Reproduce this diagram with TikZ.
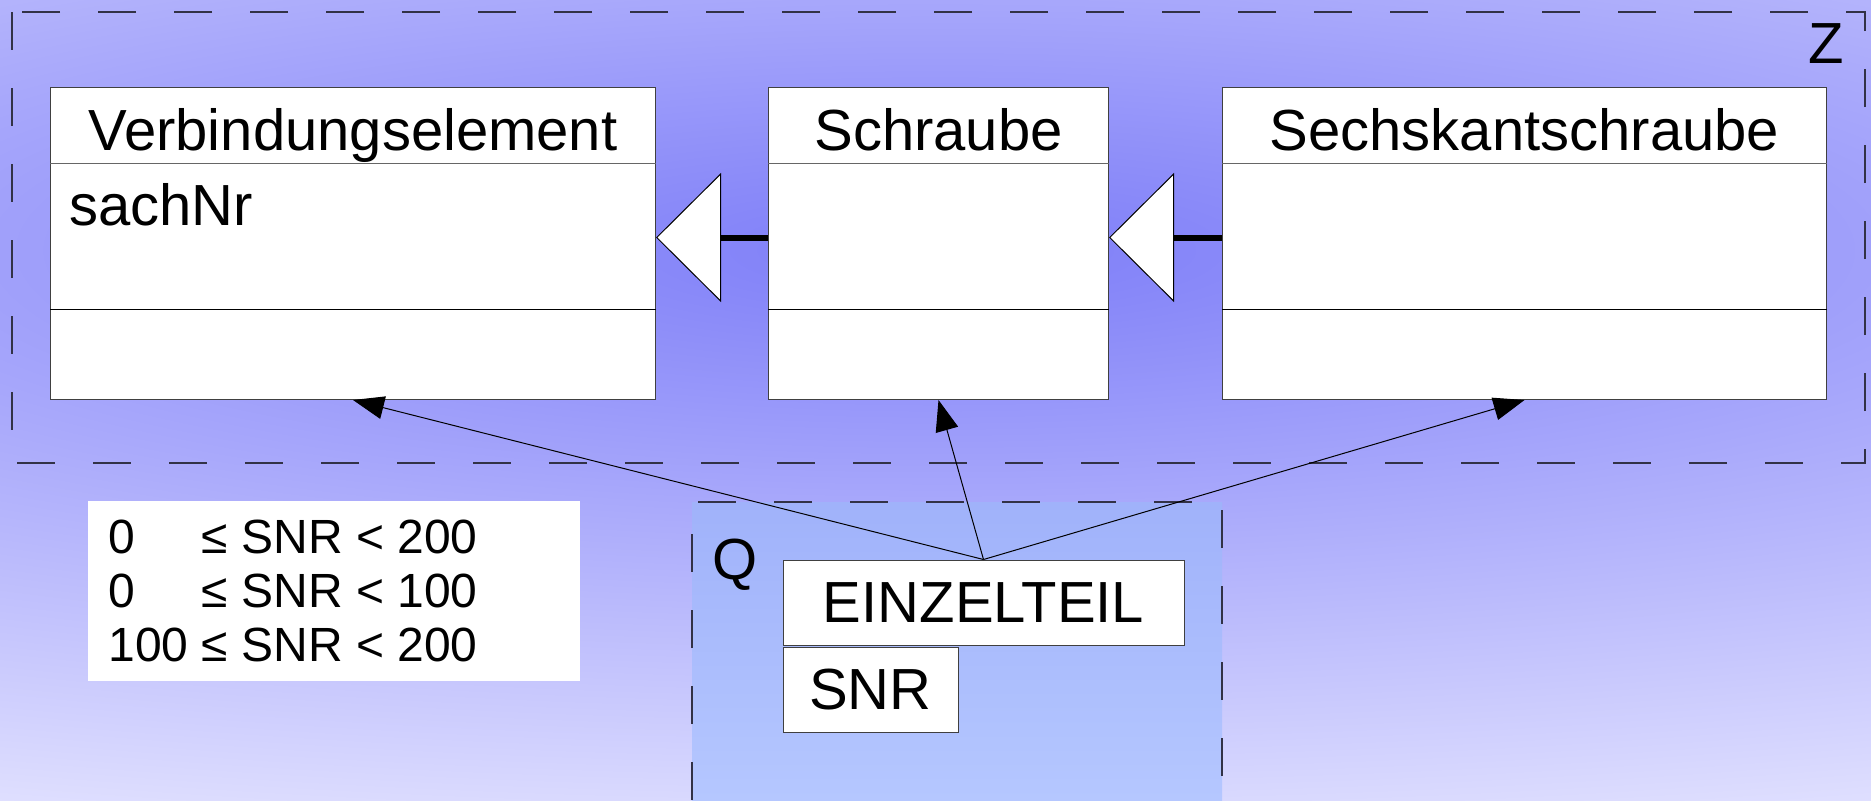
\documentclass[tikz,border=0pt]{standalone}
\usepackage{fontspec}
\setmainfont{Liberation Sans}
\usetikzlibrary{arrows.meta}

\definecolor{bgmid}{RGB}{126,126,248}
\definecolor{bgedge}{RGB}{228,228,255}
\definecolor{qtop}{RGB}{160,178,250}
\definecolor{qbot}{RGB}{181,199,255}
\definecolor{rim}{RGB}{50,50,70}
\pgfdeclareradialshading{bgglow}{\pgfpoint{0bp}{0bp}}{color(0bp)=(bgmid); color(25bp)=(bgedge); color(50bp)=(bgedge)}

\newcommand{\bigfont}{\fontsize{29}{34}\selectfont}
\newcommand{\condfont}{\fontsize{24}{27}\selectfont}

\tikzset{
  classbox/.style={draw=black!75, fill=white, line width=0.5pt, minimum height=156pt, inner sep=0pt, anchor=north west},
  classname/.style={anchor=base, inner sep=0pt, font=\bigfont},
  attr/.style={anchor=base west, inner sep=0pt, font=\bigfont},
  entity/.style={draw=black!75, fill=white, line width=0.5pt, inner sep=0pt, minimum height=42.5pt, font=\bigfont},
  gen/.style={line width=3pt, -{Triangle[length=32.5pt,width=64.5pt,fill=white,line width'=0.5pt]}},
  assoc/.style={line width=0.5pt, -{Triangle[length=15.5pt,width=11.5pt]}},
  zone/.style={draw=rim, line width=0.7pt, dash pattern=on 19pt off 19pt}
}

\begin{document}
\begin{tikzpicture}[x=0.5pt,y=-0.5pt]
\useasboundingbox (0,0) rectangle (1871,800);

% background
\begin{scope}
\clip (0,0) rectangle (1871,800);
\shade[shading=bgglow] (935,250) ellipse (1400pt and 310pt);
\end{scope}

% zone Z
\draw[zone] (12,12) rectangle (1865,463);
\node[inner sep=0pt, font=\bigfont] (zlabel) at (1826,44) {Z};

% zone Q
\shade[top color=qtop, bottom color=qbot] (692,502) rectangle (1222,800);
\draw[zone] (692,800) |- (1222,502) -- (1222,800);
\node[anchor=base west, inner sep=0pt, font=\bigfont] (qlabel) at (712,579) {Q};

% classes
\node[classbox, minimum width=302.5pt] (verb) at (50,87) {};
\node[classbox, minimum width=170pt] (schraube) at (768,87) {};
\node[classbox, minimum width=302pt] (sechskant) at (1222,87) {};
\foreach \c in {verb,schraube,sechskant}{
  \draw[black!60, line width=0.5pt] ([yshift=-38pt]\c.north west) -- ([yshift=-38pt]\c.north east);
  \draw[line width=0.5pt] ([yshift=-111pt]\c.north west) -- ([yshift=-111pt]\c.north east);
}
\node[classname] (verbname) at ([yshift=-31.5pt]verb.north) {Verbindungselement};
\node[classname] (schraubename) at ([yshift=-31.5pt]schraube.north) {Schraube};
\node[classname] (sechskantname) at ([yshift=-31.5pt]sechskant.north) {Sechskantschraube};
\node[attr] (sachnr) at ([xshift=9.5pt,yshift=-69pt]verb.north west) {sachNr};

% inheritance
\draw[gen] ([yshift=3pt]schraube.west) -- ([yshift=3pt]verb.east);
\draw[gen] ([yshift=3pt]sechskant.west) -- ([yshift=3pt]schraube.east);

% table in Q
\node[entity, minimum width=200.5pt] (einzelteil) at (983.5,602.5) {EINZELTEIL};
\node[entity, minimum width=87.5pt] (snr) at (870.5,689.5) {SNR};

% ranges
\node[fill=white, inner sep=0pt, minimum width=246pt, minimum height=90pt, anchor=north west] (cond) at (88,501) {};
\node[anchor=north west, inner sep=0pt, font=\condfont] (condtext) at ([xshift=10pt,yshift=-7pt]cond.north west)
  {\begin{tabular}{@{}l@{ }l@{}}
   0 & ≤ SNR < 200\\
   0 & ≤ SNR < 100\\
   100 & ≤ SNR < 200
   \end{tabular}};

% mapping
\draw[assoc] (einzelteil.north) -- (verb.south);
\draw[assoc] (einzelteil.north) -- (schraube.south);
\draw[assoc] (einzelteil.north) -- (sechskant.south);

\end{tikzpicture}
\end{document}
